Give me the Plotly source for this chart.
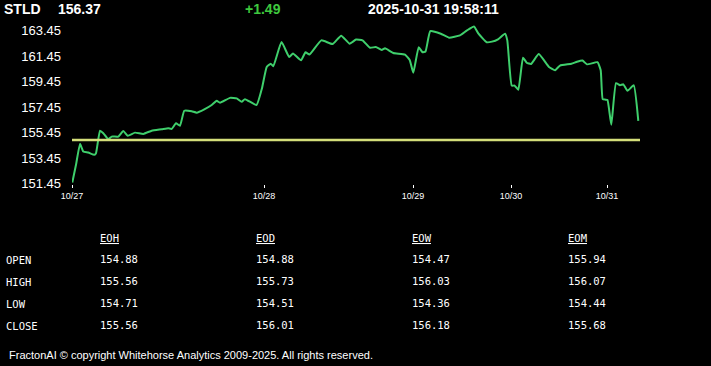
import plotly.graph_objects as go

# ---------------- data ----------------
symbol = "STLD"
last_price = 156.37
change = "+1.49"
timestamp = "2025-10-31 19:58:11"
prev_close = 154.88

# intraday bar index (session time axis) and price
bar_index = [0.3, 4, 8, 11.3, 16.3, 22.3, 24, 28, 31.3, 36.3,
             39.7, 46.3, 51.3, 55.7, 63, 71.3, 79.7, 89.7, 96.3, 99.7,
             104, 108, 112.3, 119.7, 124.7, 132.3, 139.7, 144.7, 148, 158,
             164.7, 169.7, 173, 184.5, 190, 194.7, 198.7, 201.3, 209.5, 217.2,
             221, 229, 233.5, 237.5, 249.3, 260.5, 269.2, 277.7, 284, 290.5,
             298, 303.8, 309.7, 313, 321.3, 333, 337.7, 341.3, 346.7, 350.5,
             353.5, 358.3, 368.8, 377, 388, 395, 402, 406.3, 414.7, 420,
             426, 433, 435.3, 439.7, 442.6, 446.3, 451, 454.7, 459, 466.8,
             477, 483, 488, 499.5, 505, 510.5, 515, 525.5, 528.7, 530.7,
             533.5, 535.5, 539.3, 544, 548, 551.3, 555.5, 561.7, 566.3]
price = [151.55, 152.93, 154.57, 153.97, 153.89, 153.71, 153.84, 155.60, 155.40, 154.93,
         155.14, 155.14, 155.58, 155.21, 155.45, 155.35, 155.60, 155.71, 155.79, 155.74,
         156.18, 155.99, 157.16, 157.12, 157.01, 157.27, 157.61, 157.94, 157.79, 158.17,
         158.13, 157.86, 158.07, 157.61, 158.93, 160.59, 160.84, 160.65, 162.54, 161.37,
         161.64, 161.11, 161.74, 161.56, 162.67, 162.38, 163.04, 162.41, 162.73, 162.67,
         162.09, 162.15, 161.92, 162.05, 161.68, 161.56, 161.14, 160.14, 162.13, 161.74,
         161.80, 163.39, 163.19, 162.88, 163.06, 163.45, 163.76, 163.22, 162.52, 162.57,
         162.75, 163.19, 162.67, 159.13, 159.13, 158.81, 161.32, 160.92, 160.82, 161.60,
         160.58, 160.33, 160.70, 160.84, 161.00, 161.09, 160.79, 160.96, 160.33, 158.07,
         158.03, 158.00, 156.07, 159.32, 159.16, 159.23, 158.72, 159.16, 156.37]

day_ticks = [0, 192, 341, 439, 535]
day_labels = ["10/27", "10/28", "10/29", "10/30", "10/31"]
x_end = 568

y_ticks = [151.45, 153.45, 155.45, 157.45, 159.45, 161.45, 163.45]
y_labels = ["151.45", "153.45", "155.45", "157.45", "159.45", "161.45", "163.45"]

table_cols = ["EOH", "EOD", "EOW", "EOM"]
table_rows = ["OPEN", "HIGH", "LOW", "CLOSE"]
eoh = [154.88, 155.56, 154.71, 155.56]
eod = [154.88, 155.73, 154.51, 156.01]
eow = [154.47, 156.03, 154.36, 156.18]
eom = [155.94, 156.07, 154.44, 155.68]
table_vals = [eoh, eod, eow, eom]

footer = "FractonAI \u00a9 copyright Whitehorse Analytics 2009-2025. All rights reserved."

# ---------------- layout constants ----------------
W, H = 711, 366
ML, MR, MT, MB = 72, 71, 24, 182
SANS = "Liberation Sans, Arial, sans-serif"
MONO = "DejaVu Sans Mono, Liberation Mono, monospace"

fig = go.Figure()
fig.add_trace(go.Scatter(x=bar_index, y=price, mode="lines",
                         line=dict(color="#3fcf6c", width=2, shape="spline", smoothing=0.4),
                         hoverinfo="skip"))
fig.add_trace(go.Scatter(x=[0, x_end], y=[prev_close, prev_close], mode="lines",
                         line=dict(color="#d4de7a", width=2.5),
                         hoverinfo="skip"))

annotations = []


def place(text, px, py, size, color="white", family=SANS, anchor="left"):
    """Place text at a pixel position on the page (via shifts from the plot origin)."""
    annotations.append(dict(
        text=text, xref="paper", yref="paper", x=0, y=0,
        xanchor=anchor, yanchor="middle",
        xshift=px - ML - 2, yshift=(H - MB) - py,
        showarrow=False, font=dict(family=family, size=size, color=color)))


# header
place("<b>%s</b>" % symbol, 4, 9, 14)
place("<b>%.2f</b>" % last_price, 58, 9, 14)
place("<b>%s</b>" % change, 245, 9, 14, color="#3ec83e")
place("<b>%s</b>" % timestamp, 368, 9, 14)

# table
col_x = [100, 256, 412, 568]
row_y = [259, 281, 303, 325]
for cx, name in zip(col_x, table_cols):
    place("<u>%s</u>" % name, cx, 238, 10.5, family=MONO)
for ry, name in zip(row_y, table_rows):
    place(name, 6, ry + 1, 10.5, family=MONO)
for cx, vals in zip(col_x, table_vals):
    for ry, v in zip(row_y, vals):
        place("%.2f" % v, cx, ry, 10.5, family=MONO)

place(footer, 9, 355, 11)

fig.update_layout(
    width=W, height=H,
    margin=dict(l=ML, r=MR, t=MT, b=MB, pad=0),
    paper_bgcolor="black", plot_bgcolor="black",
    showlegend=False,
    annotations=annotations,
    xaxis=dict(range=[0, x_end], tickvals=day_ticks, ticktext=day_labels,
               ticks="outside", ticklen=3, tickcolor="white", tickwidth=1,
               tickfont=dict(family=SANS, size=9, color="white"),
               showgrid=False, zeroline=False, showline=False, fixedrange=True),
    yaxis=dict(range=[151.43, 163.95], tickvals=y_ticks, ticktext=y_labels,
               ticks="", ticklabelstandoff=10,
               tickfont=dict(family=SANS, size=13, color="white"),
               showgrid=False, zeroline=False, showline=False, fixedrange=True),
)

fig.write_html("out.html", config={"displayModeBar": False})
